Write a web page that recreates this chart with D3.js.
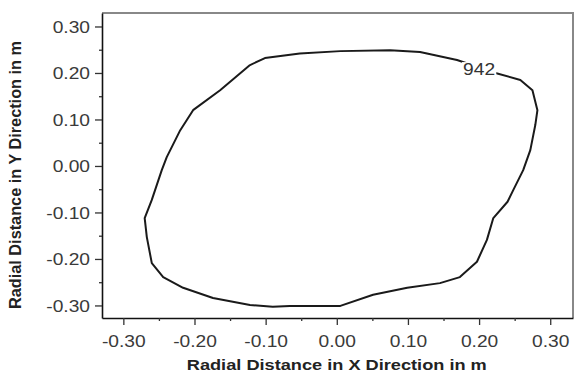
<!DOCTYPE html>
<html>
<head>
<meta charset="utf-8">
<script src="https://cdn.jsdelivr.net/npm/d3@7"></script>
<style>
	body { margin: 0; background: #fff; }
	svg { display: block; font-family: "Liberation Sans", Arial, sans-serif; }
</style>
</head>
<body>
<div id="chart"></div>
<script>
// contour outline (clockwise from top-left)
const contourX = [
	-0.122, -0.101, -0.052, 0.005, 0.075, 0.117, 0.169, 0.194, 0.223, 0.258,
	0.275, 0.282, 0.279, 0.272, 0.262, 0.248, 0.24, 0.22, 0.211, 0.197,
	0.173, 0.145, 0.099, 0.051, 0.005, -0.066, -0.09, -0.122, -0.174, -0.216,
	-0.244, -0.26, -0.267, -0.27, -0.26, -0.246, -0.239, -0.22, -0.202, -0.164,
	-0.122,
];
const contourY = [
	0.217, 0.232, 0.242, 0.247, 0.249, 0.245, 0.228, 0.215, 0.2, 0.185,
	0.163, 0.12, 0.088, 0.034, -0.009, -0.052, -0.077, -0.112, -0.159, -0.206,
	-0.239, -0.252, -0.262, -0.277, -0.301, -0.301, -0.303, -0.299, -0.284, -0.262,
	-0.239, -0.209, -0.153, -0.112, -0.073, -0.009, 0.019, 0.077, 0.12, 0.163,
	0.217,
];
const contourLabel = "942";
const labelPos = [0.2, 0.209];

const majorTicks = [-0.3, -0.2, -0.1, 0, 0.1, 0.2, 0.3];
const minorTicks = [-0.25, -0.15, -0.05, 0.05, 0.15, 0.25];
const xTitle = "Radial Distance in X Direction in m";
const yTitle = "Radial Distance in Y Direction in m";

const svgWidth = 575;
const svgHeight = 374;
const margin = { top: 13, right: 2, bottom: 56, left: 102 };
const stretch = 1.2; // the picture is a little wider than tall

const svg = d3
	.select("#chart")
	.append("svg")
	.attr("width", svgWidth)
	.attr("height", svgHeight);

const x = d3
	.scaleLinear()
	.domain([-0.33, 0.332])
	.range([margin.left, svgWidth - margin.right]);
const y = d3
	.scaleLinear()
	.domain([-0.327, 0.329])
	.range([svgHeight - margin.bottom, margin.top]);

// gray frame on top and right
svg
	.append("path")
	.attr(
		"d",
		`M${x.range()[0]},${y.range()[1]}H${x.range()[1]}V${y.range()[0]}`
	)
	.attr("fill", "none")
	.attr("stroke", "#888")
	.attr("stroke-width", 2);

// plain hyphen for negatives, like the original
const fmt = (d) => d3.format(".2f")(d).replace("\u2212", "-");

// bottom axis
const gx = svg
	.append("g")
	.attr("transform", `translate(0,${y.range()[0]})`)
	.call(d3.axisBottom(x).tickValues(majorTicks).tickFormat(fmt).tickSize(7).tickSizeOuter(0));
gx.append("g")
	.call(d3.axisBottom(x).tickValues(minorTicks).tickFormat("").tickSize(3).tickSizeOuter(0))
	.select(".domain")
	.remove();

// left axis
const gy = svg
	.append("g")
	.attr("transform", `translate(${x.range()[0]},0)`)
	.call(d3.axisLeft(y).tickValues(majorTicks).tickFormat(fmt).tickSize(7).tickSizeOuter(0));
gy.append("g")
	.call(d3.axisLeft(y).tickValues(minorTicks).tickFormat("").tickSize(3).tickSizeOuter(0))
	.select(".domain")
	.remove();

[gx, gy].forEach((g) => {
	g.selectAll(".domain").attr("stroke", "#111").attr("stroke-width", 1.6);
	g.selectAll("line").attr("stroke", "#333").attr("stroke-width", 1.3);
	g.selectAll("text")
		.attr("fill", "#3a3a3a")
		.style("font-size", "16px")
		.attr("font-family", null);
});
gx.selectAll(".tick text").attr("dy", null).attr("y", 29).attr("transform", `scale(${stretch},1)`);
gy.selectAll(".tick text").attr("x", -10).attr("dy", "0.36em").attr("transform", `scale(${stretch},1)`);

// contour line
const line = d3
	.line()
	.x((d, i) => x(contourX[i]))
	.y((d, i) => y(contourY[i]));

svg
	.append("path")
	.datum(contourX)
	.attr("d", line)
	.attr("fill", "none")
	.attr("stroke", "#1a1a1a")
	.attr("stroke-width", 2)
	.attr("stroke-linejoin", "round");

// contour label with a white gap behind it
const lg = svg
	.append("g")
	.attr("transform", `translate(${x(labelPos[0])},${y(labelPos[1])}) scale(${stretch},1)`);
const bg = lg.append("rect").attr("fill", "#fff");
const lt = lg
	.append("text")
	.attr("text-anchor", "middle")
	.attr("dy", "0.36em")
	.attr("fill", "#333")
	.style("font-size", "16px")
	.text(contourLabel);
const bb = lt.node().getBBox();
bg.attr("x", bb.x - 1).attr("y", bb.y + 2).attr("width", bb.width + 2).attr("height", bb.height - 4);

// axis titles
svg
	.append("text")
	.attr("x", x(0))
	.attr("y", 370)
	.attr("text-anchor", "middle")
	.attr("font-weight", "bold")
	.attr("fill", "#222")
	.style("font-size", "15.5px")
	.attr("textLength", 300)
	.attr("lengthAdjust", "spacingAndGlyphs")
	.text(xTitle);

svg
	.append("text")
	.attr("transform", `translate(21,175) rotate(-90)`)
	.attr("text-anchor", "middle")
	.attr("font-weight", "bold")
	.attr("fill", "#222")
	.style("font-size", "16px")
	.attr("textLength", 268)
	.attr("lengthAdjust", "spacingAndGlyphs")
	.text(yTitle);
</script>
</body>
</html>
